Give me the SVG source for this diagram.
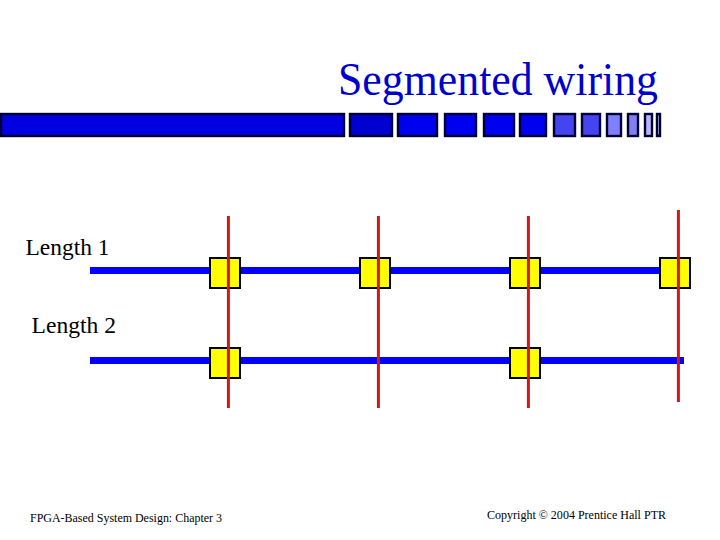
<svg xmlns="http://www.w3.org/2000/svg" width="720" height="540" viewBox="0 0 720 540">
<style>
text{font-family:"Liberation Serif","Times New Roman",serif;fill:#000}
.s{stroke:#000033;stroke-width:2.4}
.w{stroke:#0000ff;stroke-width:7;fill:none}
.r{stroke:#d01818;stroke-width:3;fill:none}
.b{fill:#ffff00;stroke:#000;stroke-width:2}
</style>
<rect width="720" height="540" fill="#fff"/>
<text x="338" y="95" font-size="46" style="fill:#0000cc" textLength="320" lengthAdjust="spacingAndGlyphs">Segmented wiring</text>
<g id="title-bar">
<rect class="s" x="1" y="114" width="343" height="22" fill="#0000e0"/>
<rect class="s" x="350" y="114" width="42" height="22" fill="#0000d0"/>
<rect class="s" x="398" y="114" width="39" height="22" fill="#0000f0"/>
<rect class="s" x="445" y="114" width="31" height="22" fill="#0000f0"/>
<rect class="s" x="484" y="114" width="30" height="22" fill="#0000f0"/>
<rect class="s" x="520" y="114" width="26" height="22" fill="#0000f0"/>
<rect class="s" x="554" y="114" width="21" height="22" fill="#4444f0"/>
<rect class="s" x="582" y="114" width="18" height="22" fill="#4444f0"/>
<rect class="s" x="607" y="114" width="14" height="22" fill="#8080ff"/>
<rect class="s" x="628" y="114" width="10" height="22" fill="#8080f0"/>
<rect class="s" x="645" y="114" width="7" height="22" fill="#b8b8f8"/>
<rect class="s" x="657" y="114" width="3" height="22" fill="#d0d0f8"/>
</g>
<g id="connectors">
<line class="w" x1="90" y1="270.400" x2="660" y2="270.400"/>
<line class="w" x1="90" y1="360.400" x2="684" y2="360.400"/>
</g>
<g id="node-1-1"><rect class="b" x="210" y="258" width="30" height="30"/></g>
<g id="node-1-2"><rect class="b" x="360" y="258" width="30" height="30"/></g>
<g id="node-1-3"><rect class="b" x="510" y="258" width="30" height="30"/></g>
<g id="node-1-4"><rect class="b" x="660" y="258" width="30" height="30"/></g>
<g id="node-2-1"><rect class="b" x="210" y="348" width="30" height="30"/></g>
<g id="node-2-3"><rect class="b" x="510" y="348" width="30" height="30"/></g>
<g id="red-wires">
<line class="r" x1="228.400" y1="216" x2="228.400" y2="408"/>
<line class="r" x1="378.400" y1="216" x2="378.400" y2="408"/>
<line class="r" x1="528.400" y1="216" x2="528.400" y2="408"/>
<line class="r" x1="678.400" y1="210" x2="678.400" y2="402"/>
</g>
<text x="25.500" y="255" font-size="24" textLength="84" lengthAdjust="spacingAndGlyphs">Length 1</text>
<text x="31.500" y="333" font-size="24" textLength="84.500" lengthAdjust="spacingAndGlyphs">Length 2</text>
<text x="30" y="521.500" font-size="12.500" textLength="192" lengthAdjust="spacingAndGlyphs">FPGA-Based System Design: Chapter 3</text>
<text x="487" y="519" font-size="12.500" textLength="179" lengthAdjust="spacingAndGlyphs">Copyright © 2004 Prentice Hall PTR</text>
</svg>
